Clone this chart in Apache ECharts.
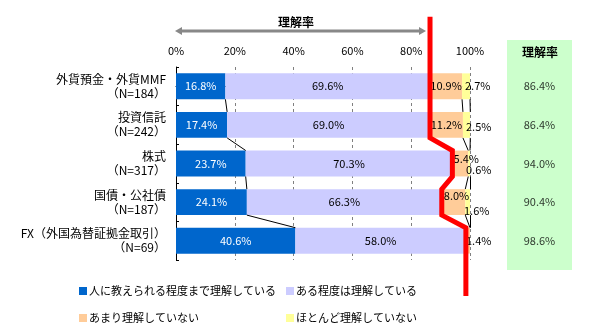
<!DOCTYPE html>
<html><head><meta charset="utf-8">
<script src="https://cdn.jsdelivr.net/npm/echarts@6/dist/echarts.min.js"></script>
<style>html,body{margin:0;padding:0;background:#fff;}#c{width:600px;height:334px;}</style>
</head><body><div id="c"></div>
<script>
const names = ['外貨預金・外貨MMF', '投資信託', '株式', '国債・公社債', 'FX（外国為替証拠金取引）'];
const sampleN = [184, 242, 317, 187, 69];
const seriesNames = ['人に教えられる程度まで理解している', 'ある程度は理解している', 'あまり理解していない', 'ほとんど理解していない'];
const teach = [16.8, 17.4, 23.7, 24.1, 40.6];
const some = [69.6, 69.0, 70.3, 66.3, 58.0];
const little = [10.9, 11.2, 5.4, 8.0, 1.4];
const none = [2.7, 2.5, 0.6, 1.6, null];
const rate = [86.4, 86.4, 94.0, 90.4, 98.6];
const xTicks = [0, 20, 40, 60, 80, 100];

const FONT = '"Noto Sans CJK JP", "Noto Sans", sans-serif';
const categories = names.map((n, i) => n + '\n（N=' + sampleN[i] + '）');
const colors = ['#0066CC', '#CCCCFF', '#FFCC99', '#FFFF99'];
const H = 0.337; // half bar height in category units

const cum = [[], [], [], []];
for (let i = 0; i < names.length; i++) {
  cum[0][i] = teach[i];
  cum[1][i] = cum[0][i] + some[i];
  cum[2][i] = cum[1][i] + little[i];
  cum[3][i] = cum[2][i] + (none[i] || 0);
}
const seriesLineData = [];
cum.forEach(b => {
  for (let j = 0; j < names.length - 1; j++) {
    seriesLineData.push({ coords: [[b[j], j + H], [b[j + 1], j + 1 - H]] });
  }
});
const redPts = [[rate[0], -1.8]];
for (let i = 0; i < rate.length; i++) {
  redPts.push([rate[i], i - H]);
  redPts.push([rate[i], i + H]);
}
redPts[redPts.length - 1] = [rate[rate.length - 1], 5.43];

const fmt = p => (p.value == null ? '' : Number(p.value).toFixed(1) + '%');
const lbl = (color) => ({ show: true, position: 'inside', color: color, fontSize: 11, fontFamily: FONT, formatter: fmt });

const littleData = little.map((v, i) => {
  const o = { value: v };
  if (i === 2) o.label = { offset: [6, -5] };
  if (i === 3) o.label = { offset: [3, -6] };
  if (i === 4) o.label = { position: 'right', offset: [-9, 0] };
  return o;
});
const noneOffsets = [[-10, 0], [-9, 2], [-9, 6], [-11, 9]];
const noneData = none.map((v, i) => {
  const o = { value: v };
  if (noneOffsets[i]) o.label = { offset: noneOffsets[i] };
  return o;
});

const chart = echarts.init(document.getElementById('c'), null, { renderer: 'canvas' });
chart.setOption({
  animation: false,
  textStyle: { fontFamily: FONT },
  grid: [
    { left: 176, right: 130, top: 67, bottom: 74 },
    { left: 507, width: 65, top: 67, bottom: 74 }
  ],
  xAxis: [
    { type: 'value', gridIndex: 0, position: 'top', min: xTicks[0], max: xTicks[xTicks.length - 1], interval: 20,
      axisLine: { show: true, lineStyle: { color: '#000' } },
      axisTick: { show: true, inside: true, length: 3, lineStyle: { color: '#000' } },
      axisLabel: { formatter: '{value}%', color: '#000', fontSize: 11, fontFamily: FONT, margin: 11 },
      splitLine: { show: true, lineStyle: { color: '#808080', type: [3, 3], width: 1 } } },
    { type: 'value', gridIndex: 1, min: 0, max: 1, show: false }
  ],
  yAxis: [
    { type: 'category', gridIndex: 0, inverse: true, data: categories,
      axisLine: { show: true, lineStyle: { color: '#000' } },
      axisTick: { show: true, inside: true, length: 3, lineStyle: { color: '#000' } },
      axisLabel: { color: '#000', fontSize: 12, lineHeight: 14, fontFamily: FONT, margin: 10, align: 'right' } },
    { type: 'value', gridIndex: 0, min: -0.5, max: 4.5, inverse: true, show: false },
    { type: 'category', gridIndex: 1, inverse: true, data: categories, show: false }
  ],
  legend: [
    { left: 74, top: 279, orient: 'vertical', itemWidth: 8, itemHeight: 8, itemGap: 13, icon: 'rect',
      data: [seriesNames[0], seriesNames[2]],
      textStyle: { color: '#000', fontSize: 11, lineHeight: 14, fontFamily: FONT, padding: [0, 0, 0, -3] } },
    { left: 281, top: 279, orient: 'vertical', itemWidth: 8, itemHeight: 8, itemGap: 13, icon: 'rect',
      data: [seriesNames[1], seriesNames[3]],
      textStyle: { color: '#000', fontSize: 11, lineHeight: 14, fontFamily: FONT, padding: [0, 0, 0, -3] } }
  ],
  graphic: [
    { type: 'rect', left: 507, top: 40, shape: { width: 65, height: 230 }, style: { fill: '#CCFFCC' }, z: -1 },
    { type: 'text', x: 540, y: 52, style: { text: '理解率', fill: '#000', font: 'bold 12px ' + FONT, textAlign: 'center', textVerticalAlign: 'middle' } },
    { type: 'text', x: 296, y: 22, style: { text: '理解率', fill: '#000', font: 'bold 12px ' + FONT, textAlign: 'center', textVerticalAlign: 'middle' } },
    { type: 'line', shape: { x1: 181, y1: 31, x2: 420, y2: 31 }, style: { stroke: '#888888', lineWidth: 3 } },
    { type: 'polygon', shape: { points: [[175, 31], [182, 27], [182, 35]] }, style: { fill: '#888888' } },
    { type: 'polygon', shape: { points: [[426, 31], [419, 27], [419, 35]] }, style: { fill: '#888888' } }
  ],
  series: [
    { name: seriesNames[0], type: 'bar', stack: 'a', xAxisIndex: 0, yAxisIndex: 0, barCategoryGap: '33%',
      itemStyle: { color: colors[0] }, label: lbl('#fff'), data: teach },
    { name: seriesNames[1], type: 'bar', stack: 'a', xAxisIndex: 0, yAxisIndex: 0,
      itemStyle: { color: colors[1] }, label: lbl('#000'), data: some },
    { name: seriesNames[2], type: 'bar', stack: 'a', xAxisIndex: 0, yAxisIndex: 0,
      itemStyle: { color: colors[2] }, label: lbl('#000'), data: littleData },
    { name: seriesNames[3], type: 'bar', stack: 'a', xAxisIndex: 0, yAxisIndex: 0,
      itemStyle: { color: colors[3] }, label: Object.assign(lbl('#000'), { position: 'right' }), data: noneData },
    { type: 'lines', coordinateSystem: 'cartesian2d', xAxisIndex: 0, yAxisIndex: 1, silent: true,
      lineStyle: { color: '#000', width: 1, opacity: 1 }, data: seriesLineData, z: 3 },
    { type: 'line', xAxisIndex: 0, yAxisIndex: 1, data: redPts, clip: false, symbol: 'none', silent: true,
      lineStyle: { color: '#FF0000', width: 5, join: 'miter' }, z: 10 },
    { type: 'scatter', xAxisIndex: 1, yAxisIndex: 2, symbolSize: 1, itemStyle: { color: 'rgba(0,0,0,0)' },
      data: rate.map((v, i) => [0.5, i, v]),
      label: { show: true, position: 'inside', color: '#000', fontSize: 11, fontFamily: FONT,
        formatter: p => p.value[2].toFixed(1) + '%' } }
  ]
});
</script></body></html>
